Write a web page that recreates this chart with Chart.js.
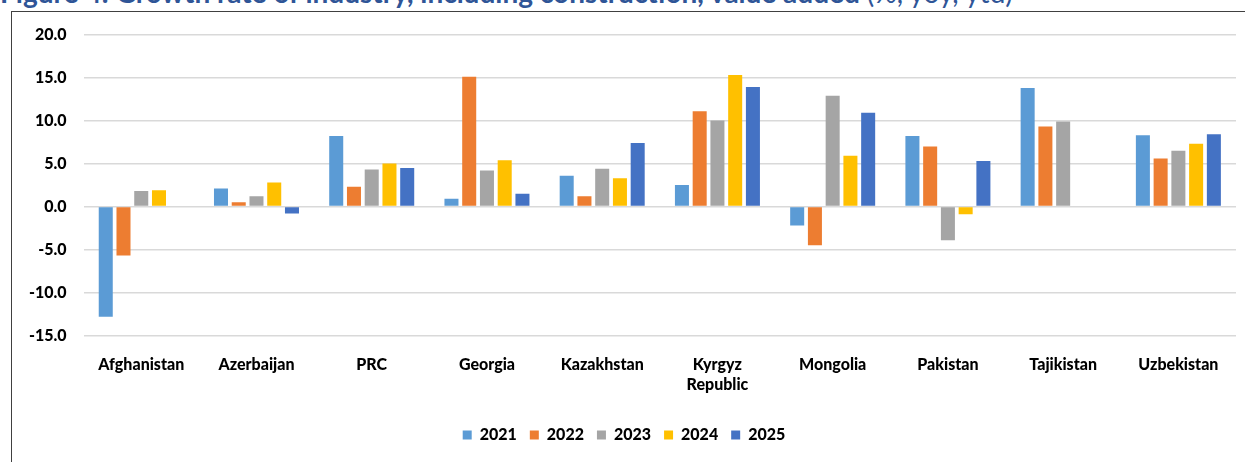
<!DOCTYPE html>
<html>
<head>
<meta charset="utf-8">
<script src="https://cdn.jsdelivr.net/npm/chart.js@4"></script>
<style>
  html, body { margin: 0; padding: 0; background: #fff; overflow: hidden; }
  body { width: 1245px; height: 462px; position: relative; font-family: Lato, "Open Sans", sans-serif; }
  #title {
    position: absolute; left: 0; top: -24px; white-space: nowrap;
    color: #2F5597; font-size: 28px; font-weight: bold; line-height: 32px;
  }
  #title span { font-weight: normal; }
  #frame {
    position: absolute; left: 11px; top: 11px; width: 1240px; height: 460px;
    border: 1.5px solid #404040;
  }
  #wrap { position: absolute; left: 12px; top: 8px; width: 1233px; height: 452px; }
</style>
</head>
<body>
<div id="title">Figure 4: Growth rate of industry, including construction, value added <span>(%, yoy, ytd)</span></div>
<div id="frame"></div>
<div id="wrap"><canvas id="chart"></canvas></div>
<script>
// categories and series
const countries = ["Afghanistan", "Azerbaijan", "PRC", "Georgia", "Kazakhstan",
  ["Kyrgyz", "Republic"], "Mongolia", "Pakistan", "Tajikistan", "Uzbekistan"];
const years = ["2021", "2022", "2023", "2024", "2025"];

const v2021 = [-12.8, 2.1, 8.2, 0.9, 3.6, 2.5, -2.2, 8.2, 13.8, 8.3];
const v2022 = [-5.7, 0.5, 2.3, 15.1, 1.2, 11.1, -4.5, 7.0, 9.3, 5.6];
const v2023 = [1.8, 1.2, 4.3, 4.2, 4.4, 10.0, 12.9, -3.9, 9.9, 6.5];
const v2024 = [1.9, 2.8, 5.0, 5.4, 3.3, 15.3, 5.9, -0.9, null, 7.3];
const v2025 = [null, -0.8, 4.5, 1.5, 7.4, 13.9, 10.9, 5.3, null, 8.4];

const colors = ["#5B9BD5", "#ED7D31", "#A5A5A5", "#FFC000", "#4472C4"];
const seriesValues = [v2021, v2022, v2023, v2024, v2025];

const yTicks = [-15, -10, -5, 0, 5, 10, 15, 20];

const font = { family: "Lato, 'Open Sans', sans-serif", size: 16, weight: "900" };

new Chart(document.getElementById("chart"), {
  type: "bar",
  data: {
    labels: countries,
    datasets: years.map((y, i) => ({
      label: y,
      data: seriesValues[i],
      backgroundColor: colors[i],
      borderWidth: 0,
      categoryPercentage: 0.77,
      barPercentage: 0.79,
    })),
  },
  options: {
    responsive: true,
    maintainAspectRatio: false,
    animation: false,
    layout: { padding: { top: 1, right: 9, bottom: 7, left: 0 } },
    plugins: {
      legend: {
        position: "bottom",
        labels: {
          color: "#000",
          font: font,
          boxWidth: 9,
          boxHeight: 9,
          padding: 13,
          generateLabels: (chart) => chart.data.datasets.map((d, i) => ({
            text: d.label,
            fillStyle: d.backgroundColor,
            strokeStyle: d.backgroundColor,
            lineWidth: 0,
            datasetIndex: i,
          })),
        },
      },
      tooltip: { enabled: false },
    },
    scales: {
      x: {
        grid: { display: false, drawTicks: false },
        border: { display: false },
        ticks: { color: "#000", font: font, padding: 20, maxRotation: 0, autoSkip: false },
      },
      y: {
        min: -15,
        max: 20,
        afterBuildTicks: (axis) => { axis.ticks = yTicks.map((v) => ({ value: v })); },
        grid: { color: "#D9D9D9", lineWidth: 1.5, drawTicks: false },
        border: { display: false },
        ticks: { color: "#000", font: font, padding: 17, callback: (v) => v.toFixed(1) },
      },
    },
  },
});
</script>
</body>
</html>
